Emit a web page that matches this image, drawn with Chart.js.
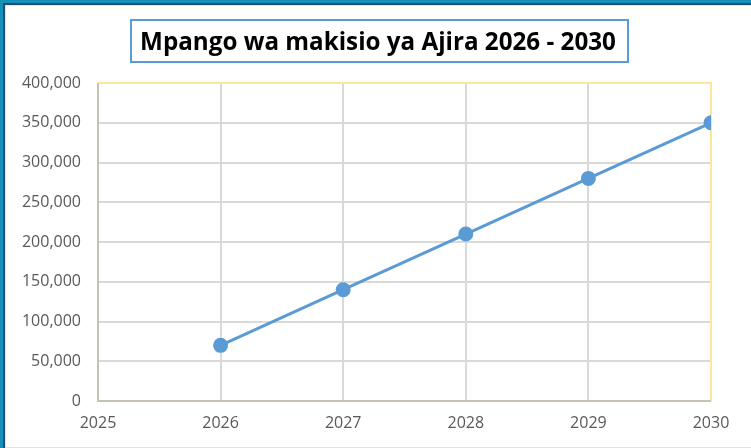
<!DOCTYPE html>
<html>
<head>
<meta charset="utf-8">
<script src="https://cdn.jsdelivr.net/npm/chart.js@4"></script>
<style>
  html, body { margin: 0; padding: 0; background: #fff; }
  #wrap { width: 751px; height: 448px; position: relative; }
</style>
</head>
<body>
<div id="wrap"><canvas id="chart"></canvas></div>
<script>
// data
var years = [2026, 2027, 2028, 2029, 2030];
var ajira = [70000, 140000, 210000, 280000, 350000];
var titleText = 'Mpango wa makisio ya Ajira 2026 - 2030';

var blue = '#5b9bd5';

// frame, title box and plot border
var decor = {
  id: 'decor',
  beforeDraw: function (chart) {
    var ctx = chart.ctx;
    var w = chart.width, h = chart.height;
    ctx.save();
    ctx.fillStyle = '#fff';
    ctx.fillRect(0, 0, w, h);
    ctx.fillStyle = '#1590b8';
    ctx.fillRect(0, 0, w, 3);
    ctx.fillRect(0, 0, 3, h);
    ctx.fillStyle = '#1f4e79';
    ctx.fillRect(3, 3, w - 3, 2);
    ctx.fillRect(3, 3, 2, h - 3);
    ctx.fillStyle = '#e3e3e3';
    ctx.fillRect(5, 5, w - 5, 1);
    ctx.fillRect(5, 5, 1, h - 5);
    ctx.fillRect(5, h - 1, w - 5, 1);

    // title
    ctx.font = 'bold 25px "Open Sans", sans-serif';
    var tw = ctx.measureText(titleText).width;
    var size = 25 * 476 / tw;
    ctx.font = 'bold ' + size + 'px "Open Sans", sans-serif';
    ctx.fillStyle = '#000';
    ctx.textAlign = 'center';
    ctx.textBaseline = 'middle';
    ctx.fillText(titleText, 378, 43);
    ctx.strokeStyle = blue;
    ctx.lineWidth = 2;
    ctx.strokeRect(131, 20, 497, 42);
    ctx.restore();
  },
  beforeDatasetsDraw: function (chart) {
    var a = chart.chartArea, ctx = chart.ctx;
    ctx.save();
    ctx.lineWidth = 2;
    ctx.strokeStyle = '#ffe699';
    ctx.beginPath();
    ctx.moveTo(a.left, a.top);
    ctx.lineTo(a.right, a.top);
    ctx.lineTo(a.right, a.bottom);
    ctx.stroke();
    ctx.strokeStyle = '#c8c2b2';
    ctx.beginPath();
    ctx.moveTo(a.left, a.top);
    ctx.lineTo(a.left, a.bottom);
    ctx.lineTo(a.right, a.bottom);
    ctx.stroke();
    ctx.restore();
  }
};

new Chart(document.getElementById('chart'), {
  type: 'scatter',
  data: {
    datasets: [{
      label: 'Ajira',
      data: years.map(function (y, i) { return { x: y, y: ajira[i] }; }),
      showLine: true,
      borderColor: blue,
      backgroundColor: blue,
      borderWidth: 3,
      pointRadius: 6,
      pointHoverRadius: 6
    }]
  },
  options: {
    responsive: true,
    maintainAspectRatio: false,
    animation: false,
    events: [],
    layout: { padding: { top: 83, right: 40, left: 0, bottom: 0 } },
    plugins: {
      legend: { display: false },
      title: { display: false },
      tooltip: { enabled: false }
    },
    scales: {
      x: {
        type: 'linear',
        min: 2025,
        max: 2030,
        afterFit: function (s) { s.height = 47; },
        grid: { color: '#d9d9d9', lineWidth: 2, drawTicks: false },
        border: { display: false },
        ticks: {
          stepSize: 1,
          padding: 13,
          color: '#595959',
          font: { family: '"Open Sans", sans-serif', size: 16 },
          callback: function (v) { return String(v); }
        }
      },
      y: {
        min: 0,
        max: 400000,
        afterFit: function (s) { s.width = 98; },
        grid: { color: '#d9d9d9', lineWidth: 2, drawTicks: false },
        border: { display: false },
        ticks: {
          stepSize: 50000,
          padding: 17,
          color: '#595959',
          font: { family: '"Open Sans", sans-serif', size: 16 },
          callback: function (v) { return v.toLocaleString('en-US'); }
        }
      }
    }
  },
  plugins: [decor]
});
</script>
</body>
</html>
